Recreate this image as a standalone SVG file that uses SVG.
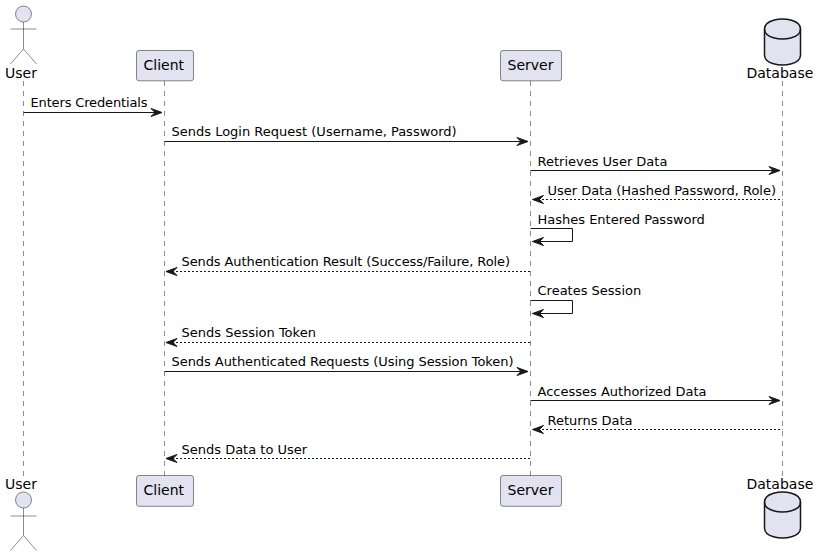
<svg xmlns="http://www.w3.org/2000/svg" width="819" height="556" viewBox="0 0 819 556">
<style>
text{font-family:"DejaVu Sans",sans-serif;fill:#000}
.p{font-size:14px}
.m{font-size:13px}
.life{stroke:#181818;stroke-width:.5;stroke-dasharray:5 5;fill:none}
.box{fill:#E2E2F0;stroke:#181818;stroke-width:.5}
.actor{fill:none;stroke:#181818;stroke-width:.5}
.head{fill:#E2E2F0;stroke:#181818;stroke-width:.5}
.db{fill:#E2E2F0;stroke:#181818;stroke-width:1.5}
.dbl{fill:none;stroke:#181818;stroke-width:1.5}
.s{stroke:#181818;stroke-width:1;fill:none}
.d{stroke:#181818;stroke-width:1;fill:none;stroke-dasharray:2 2}
.a{fill:#181818;stroke:#181818;stroke-width:1}
</style>
<defs>
<path id="ar" class="a" d="M0,0L-11,-4L-7,0L-11,4Z"/>
<path id="al" class="a" d="M0,0L11,-4L7,0L11,4Z"/>
</defs>
<g id="lifelines">
<path class="life" d="M23.5,81V476"/>
<path class="life" d="M164.5,81V476"/>
<path class="life" d="M530.5,81V476"/>
<path class="life" d="M782.5,81V476"/>
</g>
<g id="user-top">
<circle class="head" cx="23.5" cy="14" r="8"/>
<path class="actor" d="M23.5,22V49M10.5,29H36.5M23.5,49L10.5,64M23.5,49L36.5,64"/>
<text class="p" x="5" y="77.5">User</text>
</g>
<g id="client-top">
<rect class="box" x="136.5" y="50.5" width="57" height="30.3" rx="2.5"/>
<text class="p" x="143.5" y="70">Client</text>
</g>
<g id="server-top">
<rect class="box" x="500.5" y="50.5" width="61" height="30.3" rx="2.5"/>
<text class="p" x="507.5" y="70">Server</text>
</g>
<g id="database-top">
<path class="db" d="M764.5,29C764.5,19 782.5,19 782.5,19C782.5,19 800.5,19 800.5,29V55C800.5,65 782.5,65 782.5,65C782.5,65 764.5,65 764.5,55Z"/>
<path class="dbl" d="M764.5,29C764.5,39 782.5,39 782.5,39C782.5,39 800.5,39 800.5,29"/>
<text class="p" x="746.5" y="77.5">Database</text>
</g>
<g id="user-bottom">
<text class="p" x="5" y="489">User</text>
<circle class="head" cx="23.5" cy="500" r="8"/>
<path class="actor" d="M23.5,508V535.5M10.5,516H36.5M23.5,535.5L10.5,550.5M23.5,535.5L36.5,550.5"/>
</g>
<g id="client-bottom">
<rect class="box" x="136.5" y="475.5" width="57" height="30.8" rx="2.5"/>
<text class="p" x="143.5" y="495">Client</text>
</g>
<g id="server-bottom">
<rect class="box" x="500.5" y="475.5" width="61" height="30.8" rx="2.5"/>
<text class="p" x="507.5" y="495">Server</text>
</g>
<g id="database-bottom">
<text class="p" x="746.5" y="489">Database</text>
<path class="db" d="M764.5,502C764.5,492 782.5,492 782.5,492C782.5,492 800.5,492 800.5,502V528C800.5,538 782.5,538 782.5,538C782.5,538 764.5,538 764.5,528Z"/>
<path class="dbl" d="M764.5,502C764.5,512 782.5,512 782.5,512C782.5,512 800.5,512 800.5,502"/>
</g>
<g id="connectors">
<path class="s" d="M23.5,112.5H158"/><use href="#ar" x="162" y="112.5"/>
<path class="s" d="M164.5,141.5H524"/><use href="#ar" x="528" y="141.5"/>
<path class="s" d="M530.5,170.5H776"/><use href="#ar" x="780" y="170.5"/>
<path class="d" d="M538,199.5H782.5"/><use href="#al" x="532.5" y="199.5"/>
<path class="s" d="M530.5,228.5H572.5V241.5H538"/><use href="#al" x="532.5" y="241.5"/>
<path class="d" d="M172,271.5H530.5"/><use href="#al" x="166" y="271.5"/>
<path class="s" d="M530.5,300.5H572.5V313.5H538"/><use href="#al" x="532.5" y="313.5"/>
<path class="d" d="M172,342.5H530.5"/><use href="#al" x="166" y="342.5"/>
<path class="s" d="M164.5,371.5H524"/><use href="#ar" x="528" y="371.5"/>
<path class="s" d="M530.5,400.5H776"/><use href="#ar" x="780" y="400.5"/>
<path class="d" d="M538,429.5H782.5"/><use href="#al" x="532.5" y="429.5"/>
<path class="d" d="M172,458.5H530.5"/><use href="#al" x="166" y="458.5"/>
</g>
<g id="labels">
<text class="m" x="30.5" y="107" textLength="117">Enters Credentials</text>
<text class="m" x="171.5" y="136">Sends Login Request (Username, Password)</text>
<text class="m" x="537.5" y="166">Retrieves User Data</text>
<text class="m" x="547.5" y="195" textLength="228.5">User Data (Hashed Password, Role)</text>
<text class="m" x="537.5" y="224">Hashes Entered Password</text>
<text class="m" x="181.5" y="266" textLength="328.5">Sends Authentication Result (Success/Failure, Role)</text>
<text class="m" x="537.5" y="295">Creates Session</text>
<text class="m" x="181.5" y="337">Sends Session Token</text>
<text class="m" x="171.5" y="366" textLength="342">Sends Authenticated Requests (Using Session Token)</text>
<text class="m" x="537.5" y="396">Accesses Authorized Data</text>
<text class="m" x="547.5" y="425">Returns Data</text>
<text class="m" x="181.5" y="454">Sends Data to User</text>
</g>
</svg>
